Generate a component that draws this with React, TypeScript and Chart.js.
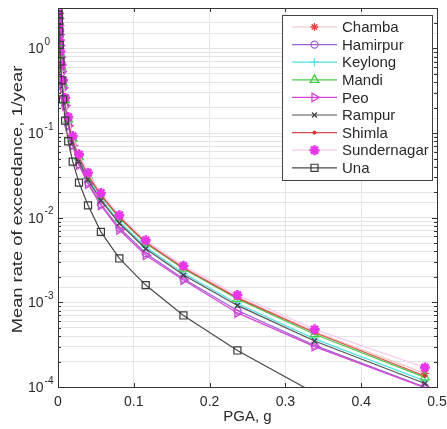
import React, { useEffect, useRef } from 'react';
import { Chart, registerables } from 'chart.js';
import { drawPoint } from 'chart.js/helpers';

Chart.register(...registerables);

// PGA levels (g)
const pga = [0.00054, 0.00078, 0.00111, 0.00158, 0.00226, 0.00324, 0.00463, 0.00662, 0.00947, 0.01354, 0.0194, 0.0277, 0.0396, 0.0566, 0.0809, 0.1157, 0.1655, 0.2367, 0.3385, 0.484];

// Mean rate of exceedance (1/year) per site
const chamba = [2.5, 2.2, 1.9, 1.55, 1.2, 0.9, 0.62, 0.41, 0.255, 0.15, 0.09, 0.054, 0.033, 0.019, 0.0104, 0.0052, 0.0026, 0.00116, 0.00045, 0.000145];
const hamirpur = [2.35, 2.05, 1.7, 1.35, 1.03, 0.76, 0.52, 0.34, 0.21, 0.123, 0.072, 0.043, 0.026, 0.0145, 0.0076, 0.0038, 0.0019, 0.0008, 0.00031, 0.0001];
const keylong = [2.4, 2.1, 1.75, 1.42, 1.1, 0.82, 0.56, 0.37, 0.23, 0.135, 0.08, 0.048, 0.029, 0.0165, 0.009, 0.0045, 0.0022, 0.00097, 0.00037, 0.000118];
const mandi = [2.45, 2.15, 1.8, 1.48, 1.15, 0.86, 0.6, 0.39, 0.245, 0.145, 0.086, 0.052, 0.031, 0.018, 0.0099, 0.005, 0.0025, 0.0011, 0.00042, 0.00013];
const peo = [2.6, 2.25, 1.85, 1.45, 1.08, 0.78, 0.53, 0.34, 0.21, 0.122, 0.071, 0.042, 0.025, 0.014, 0.0072, 0.0036, 0.00184, 0.00075, 0.0003, 0.000098];
const rampur = [2.4, 2.1, 1.75, 1.4, 1.08, 0.8, 0.55, 0.36, 0.225, 0.132, 0.078, 0.046, 0.028, 0.016, 0.0086, 0.0043, 0.0021, 0.00092, 0.00035, 0.00011];
const shimla = [2.5, 2.2, 1.85, 1.5, 1.18, 0.88, 0.61, 0.4, 0.25, 0.148, 0.088, 0.053, 0.032, 0.0186, 0.0102, 0.0051, 0.00255, 0.00113, 0.00044, 0.000135];
const sundernagar = [2.6, 2.3, 1.95, 1.6, 1.25, 0.92, 0.64, 0.42, 0.26, 0.155, 0.092, 0.056, 0.034, 0.0196, 0.0107, 0.0054, 0.0027, 0.00122, 0.00048, 0.00017];
const una = [2.8, 2.5, 2.1, 1.6, 1.1, 0.7, 0.42, 0.25, 0.14, 0.08, 0.046, 0.026, 0.014, 0.0068, 0.0033, 0.0016, 0.0007, 0.00027, 0.000085, 0.000015];

const siteNames = ['Chamba', 'Hamirpur', 'Keylong', 'Mandi', 'Peo', 'Rampur', 'Shimla', 'Sundernagar', 'Una'];
const siteValues = [chamba, hamirpur, keylong, mandi, peo, rampur, shimla, sundernagar, una];

const xTickValues = [0, 0.1, 0.2, 0.3, 0.4, 0.5];
const xTickLabels = ['0', '0.1', '0.2', '0.3', '0.4', '0.5'];
const yDecades = [1e-4, 1e-3, 1e-2, 1e-1, 1];

const xTitle = 'PGA, g';
const yTitle = 'Mean rate of exceedance, 1/year';

// styles (separate from data)
const siteStyles = [
  { line: '#f3c2c2', marker: '#e04848', fill: 'rgba(0,0,0,0)', style: 'star', radius: 4, rot: 0, bw: 1.3 },
  { line: '#9c62d4', marker: '#9c62d4', fill: 'rgba(0,0,0,0)', style: 'circle', radius: 3.5, rot: 0, bw: 1.3 },
  { line: '#4fe3e3', marker: '#4fe3e3', fill: 'rgba(0,0,0,0)', style: 'cross', radius: 4, rot: 0, bw: 1.3 },
  { line: '#48cc48', marker: '#48cc48', fill: 'rgba(0,0,0,0)', style: 'triangle', radius: 5, rot: 0, bw: 1.3 },
  { line: '#d444d4', marker: '#d444d4', fill: 'rgba(0,0,0,0)', style: 'triangle', radius: 5, rot: 90, bw: 1.3 },
  { line: '#555555', marker: '#444444', fill: 'rgba(0,0,0,0)', style: 'crossRot', radius: 3.5, rot: 0, bw: 1.3 },
  { line: '#dc4a4a', marker: '#dc3030', fill: '#dc3030', style: 'circle', radius: 1.6, rot: 0, bw: 1 },
  { line: '#f5c9ef', marker: '#e836e8', fill: '#e836e8', style: 'star', radius: 5, rot: 0, bw: 2.6 },
  { line: '#4a4a4a', marker: '#3a3a3a', fill: 'rgba(0,0,0,0)', style: 'rect', radius: 5, rot: 0, bw: 1.2 },
];

const FONT = '"Liberation Sans", Arial, Helvetica, sans-serif';
const TEXT = '#2a2a2a';

const framePlugin = {
  id: 'frame',
  afterDatasetsDraw(chart: any) {
    const { ctx, chartArea: a, scales } = chart;
    ctx.save();
    ctx.strokeStyle = '#333';
    ctx.lineWidth = 1;
    ctx.beginPath();
    xTickValues.forEach((v) => {
      const x = Math.round(scales.x.getPixelForValue(v)) + 0.5;
      ctx.moveTo(x, a.bottom); ctx.lineTo(x, a.bottom - 4);
      ctx.moveTo(x, a.top); ctx.lineTo(x, a.top + 4);
    });
    for (let e = -4; e <= 0; e++) {
      for (let m = 1; m <= 9; m++) {
        const v = m * Math.pow(10, e);
        if (v > 3.0001 || v < 1e-4) continue;
        const y = Math.round(scales.y.getPixelForValue(v)) + 0.5;
        const len = m === 1 ? 5 : 3;
        ctx.moveTo(a.left, y); ctx.lineTo(a.left + len, y);
        ctx.moveTo(a.right, y); ctx.lineTo(a.right - len, y);
      }
    }
    ctx.stroke();
    ctx.strokeRect(Math.round(a.left) + 0.5, Math.round(a.top) + 0.5, Math.round(a.right - a.left), Math.round(a.bottom - a.top));
    ctx.restore();
  },
};

const labelsPlugin = {
  id: 'customLabels',
  afterDraw(chart: any) {
    const { ctx, chartArea: a, scales } = chart;
    ctx.save();
    ctx.fillStyle = TEXT;
    // x tick labels
    ctx.font = `14px ${FONT}`;
    ctx.textAlign = 'center';
    ctx.textBaseline = 'middle';
    xTickValues.forEach((v, i) => {
      ctx.fillText(xTickLabels[i], scales.x.getPixelForValue(v), a.bottom + 15);
    });
    // x title
    ctx.font = `15px ${FONT}`;
    ctx.fillText(xTitle, (a.left + a.right) / 2, a.bottom + 30);
    // y decade labels with superscript exponents
    yDecades.forEach((d) => {
      const y = scales.y.getPixelForValue(d);
      const ex = Math.round(Math.log10(d));
      ctx.font = `14px ${FONT}`;
      ctx.textAlign = 'left';
      ctx.textBaseline = 'middle';
      ctx.fillText('10', 28, y + 1);
      const w = ctx.measureText('10').width;
      ctx.font = `10px ${FONT}`;
      ctx.fillText(String(ex), 28 + w + 1, y - 6);
    });
    // y title, stretched along its length
    ctx.translate(18, (a.top + a.bottom) / 2 + 2);
    ctx.rotate(-Math.PI / 2);
    ctx.scale(1.22, 1);
    ctx.font = `15px ${FONT}`;
    ctx.textAlign = 'center';
    ctx.textBaseline = 'middle';
    ctx.fillText(yTitle, 0, 0);
    ctx.restore();
  },
};

const legendPlugin = {
  id: 'boxLegend',
  afterDraw(chart: any) {
    const { ctx } = chart;
    const left = 282.5, top = 15.5, right = 432.5, bottom = 180.5;
    ctx.save();
    ctx.fillStyle = '#ffffff';
    ctx.fillRect(left, top, right - left, bottom - top);
    ctx.strokeStyle = '#444';
    ctx.lineWidth = 1;
    ctx.strokeRect(left, top, right - left, bottom - top);
    chart.data.datasets.forEach((ds: any, i: number) => {
      const s = siteStyles[i];
      const y = 27 + i * 17.6;
      ctx.strokeStyle = s.line;
      ctx.lineWidth = 1.2;
      ctx.beginPath();
      ctx.moveTo(292, y);
      ctx.lineTo(337, y);
      ctx.stroke();
      ctx.strokeStyle = s.marker;
      ctx.fillStyle = s.fill;
      ctx.lineWidth = s.bw;
      drawPoint(ctx, { pointStyle: s.style, rotation: s.rot, radius: s.radius, borderWidth: s.bw }, 314.5, y);
      ctx.fillStyle = TEXT;
      ctx.font = `15px ${FONT}`;
      ctx.textAlign = 'left';
      ctx.textBaseline = 'middle';
      ctx.fillText(ds.label, 342, y + 1);
    });
    ctx.restore();
  },
};

export default function App() {
  const canvasRef = useRef<HTMLCanvasElement | null>(null);

  useEffect(() => {
    const canvas = canvasRef.current;
    if (!canvas) return;
    const datasets = siteNames.map((name, i) => {
      const s = siteStyles[i];
      return {
        label: name,
        data: pga.map((x, j) => ({ x, y: siteValues[i][j] })),
        borderColor: s.line,
        borderWidth: 1.2,
        backgroundColor: s.fill,
        pointStyle: s.style,
        pointRadius: s.radius,
        pointRotation: s.rot,
        pointBorderColor: s.marker,
        pointBackgroundColor: s.fill,
        pointBorderWidth: s.bw,
        pointHoverRadius: s.radius,
        tension: 0,
        fill: false,
        order: siteNames.length - i,
      };
    });

    const chart = new Chart(canvas, {
      type: 'line',
      data: { datasets },
      options: {
        animation: false,
        responsive: false,
        maintainAspectRatio: false,
        layout: { padding: { top: 8, right: 10, left: 0, bottom: 0 } },
        plugins: {
          legend: { display: false },
          tooltip: { enabled: false },
        },
        scales: {
          x: {
            type: 'linear',
            min: 0,
            max: 0.5,
            afterBuildTicks: (scale: any) => {
              scale.ticks = xTickValues.map((v) => ({ value: v }));
            },
            afterFit: (scale: any) => { scale.height = 42; },
            ticks: { display: false },
            grid: { color: '#e4e4e4', lineWidth: 1, drawTicks: false },
            border: { display: true, color: '#333' },
          },
          y: {
            type: 'logarithmic',
            min: 1e-4,
            max: 3,
            afterFit: (scale: any) => { scale.width = 58; },
            ticks: { display: false, autoSkip: false },
            grid: { color: '#e4e4e4', lineWidth: 1, drawTicks: false },
            border: { display: true, color: '#333' },
          },
        },
      },
      plugins: [framePlugin, labelsPlugin, legendPlugin],
    } as any);

    return () => chart.destroy();
  }, []);

  return (
    <div style={{ position: 'fixed', left: 0, top: 0, width: 447, height: 429, background: '#fff' }}>
      <canvas ref={canvasRef} width={447} height={429} />
    </div>
  );
}
